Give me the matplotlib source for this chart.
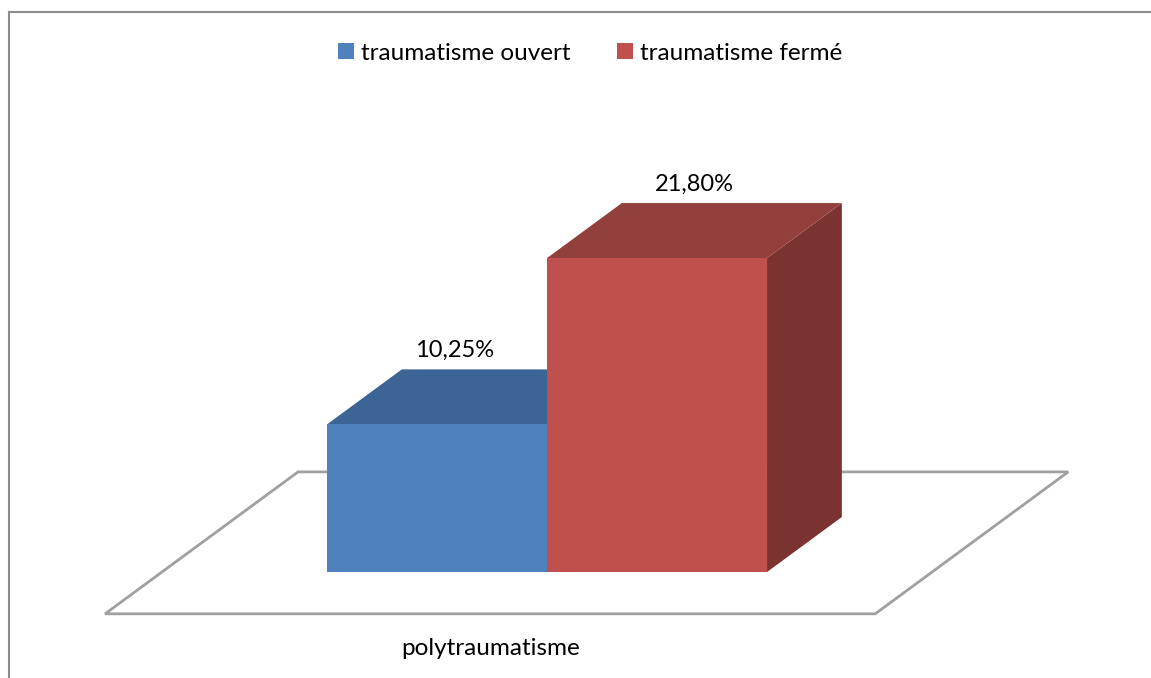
import matplotlib
matplotlib.use("Agg")
import matplotlib.pyplot as plt
from matplotlib.patches import Polygon, Patch
from matplotlib.lines import Line2D

plt.rcParams['font.family'] = ['Lato', 'DejaVu Sans']

# donnees
categorie = 'polytraumatisme'
series = ['traumatisme ouvert', 'traumatisme fermé']
valeurs = [10.25, 21.80]
etiquettes = ['10,25%', '21,80%']

# couleurs (face avant, dessus, cote)
c_avant = ['#4f81bd', '#c0504d']
c_dessus = ['#3c6494', '#933f3b']
c_cote = ['#345a86', '#7a3331']

# projection oblique : une unite de profondeur decale de (DX, DY)
DX, DY = 0.34, 3.82
largeur = 1.0
prof_sol = (-0.76, 1.82)   # avant / arriere du sol
demi_sol = 1.75


def proj(x, y, d):
    return (x + d * DX, y + d * DY)


fig = plt.figure(figsize=(11.51, 6.78), dpi=100)
ax = fig.add_axes([0, 0, 1, 1])
ax.set_xlim(-2.486, 2.745)
ax.set_ylim(-7.36, 39.72)
ax.axis('off')

# sol
f0, f1 = prof_sol
sol = [proj(-demi_sol, 0, f0), proj(demi_sol, 0, f0),
       proj(demi_sol, 0, f1), proj(-demi_sol, 0, f1)]
ax.add_patch(Polygon(sol, closed=True, facecolor='white',
                     edgecolor='#a0a0a0', lw=2, zorder=1))

# barres 3D
for i, v in enumerate(valeurs):
    x0 = -largeur + i * largeur
    x1 = x0 + largeur
    avant = [proj(x0, 0, 0), proj(x1, 0, 0), proj(x1, v, 0), proj(x0, v, 0)]
    dessus = [proj(x0, v, 0), proj(x1, v, 0), proj(x1, v, 1), proj(x0, v, 1)]
    cote = [proj(x1, 0, 0), proj(x1, 0, 1), proj(x1, v, 1), proj(x1, v, 0)]
    z = 2 + i * 3
    ax.add_patch(Polygon(cote, closed=True, facecolor=c_cote[i], lw=0, zorder=z))
    ax.add_patch(Polygon(dessus, closed=True, facecolor=c_dessus[i], lw=0, zorder=z + 1))
    ax.add_patch(Polygon(avant, closed=True, facecolor=c_avant[i], lw=0, zorder=z + 2))

# etiquettes de valeur au-dessus des barres
decalage = [-0.09, 0.0]
for i, v in enumerate(valeurs):
    xc = -largeur / 2 + i * largeur + decalage[i]
    lx, ly = proj(xc, v, 0.5)
    ax.annotate(etiquettes[i], (lx, v + DY), xytext=(0, 6), textcoords='offset points',
                ha='center', va='bottom', fontsize=17, color='black', zorder=20)

# nom de la categorie sous le sol
cx, cy = proj(0, 0, f0)
ax.annotate(categorie, (cx, cy), xytext=(0, -25), textcoords='offset points',
            ha='center', va='center', fontsize=17.5, color='black')

# legende
poignees = [Patch(facecolor=c_avant[i], edgecolor='none') for i in range(len(series))]
fig.legend(poignees, series, loc='center', bbox_to_anchor=(590 / 1151, 1 - 53 / 678),
           ncol=2, frameon=False, fontsize=17.5, handlelength=0.65, handleheight=0.65,
           handletextpad=0.3, columnspacing=1.9)

# cadre du graphique (haut et gauche)
fig.add_artist(Line2D([9 / 1151, 1], [1 - 12 / 678, 1 - 12 / 678],
                      transform=fig.transFigure, color='#8c8c8c', lw=1.5))
fig.add_artist(Line2D([9 / 1151, 9 / 1151], [0, 1 - 12 / 678],
                      transform=fig.transFigure, color='#8c8c8c', lw=1.5))

fig.savefig('out.png', dpi=100)
